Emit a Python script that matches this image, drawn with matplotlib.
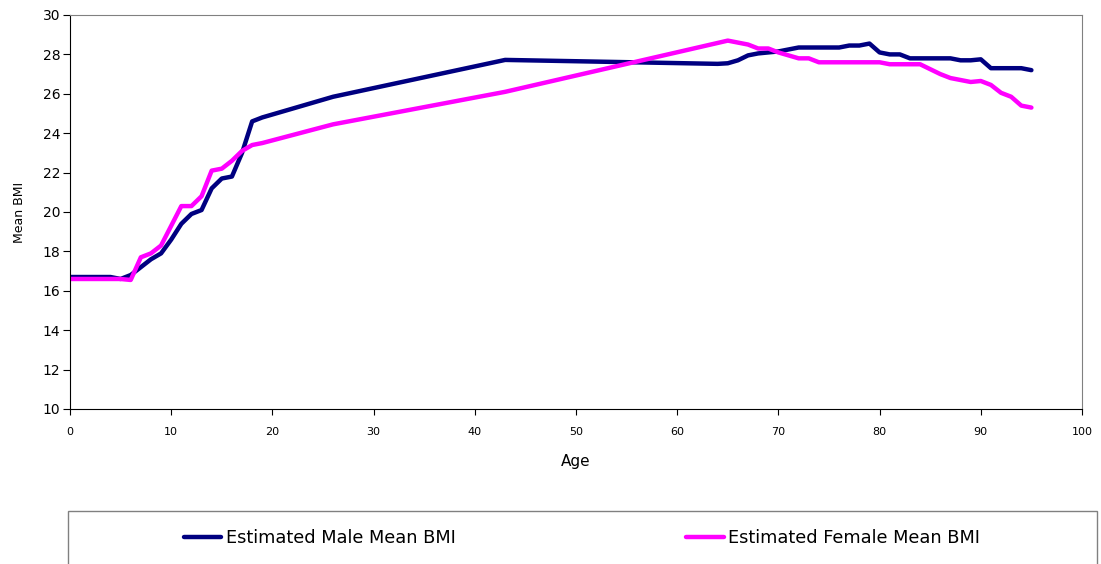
import numpy as np
import matplotlib.pyplot as plt
from matplotlib.patches import Rectangle

plt.rcParams['font.family'] = ['Verdana', 'DejaVu Sans']

male_age = [0, 1, 2, 3, 4, 5, 6, 7, 8, 9, 10, 11, 12, 13, 14, 15, 16, 17, 18, 19,
            26, 43, 64, 65, 66, 67, 68, 69, 70, 71, 72, 73, 74, 75, 76, 77, 78, 79,
            80, 81, 82, 83, 84, 85, 86, 87, 88, 89, 90, 91, 92, 93, 94, 95]
male_bmi = [16.7, 16.7, 16.7, 16.7, 16.7, 16.6, 16.8, 17.2, 17.6, 17.9, 18.6, 19.4,
            19.9, 20.1, 21.2, 21.7, 21.8, 23.0, 24.6, 24.8,
            25.85, 27.72, 27.52, 27.55, 27.7, 27.95, 28.05, 28.1, 28.15, 28.25, 28.35,
            28.35, 28.35, 28.35, 28.35, 28.45, 28.45, 28.55,
            28.1, 28.0, 28.0, 27.8, 27.8, 27.8, 27.8, 27.8, 27.7, 27.7, 27.75, 27.3,
            27.3, 27.3, 27.3, 27.2]

female_age = [0, 1, 2, 3, 4, 5, 6, 7, 8, 9, 10, 11, 12, 13, 14, 15, 16, 17, 18, 19,
              26, 43, 65, 66, 67, 68, 69, 70, 71, 72, 73, 74, 75, 76, 77, 78, 79,
              80, 81, 82, 83, 84, 85, 86, 87, 88, 89, 90, 91, 92, 93, 94, 95]
female_bmi = [16.6, 16.6, 16.6, 16.6, 16.6, 16.6, 16.55, 17.7, 17.9, 18.3, 19.3, 20.3,
              20.3, 20.8, 22.1, 22.2, 22.6, 23.1, 23.4, 23.5,
              24.45, 26.1, 28.7, 28.6, 28.5, 28.3, 28.3, 28.1, 27.95, 27.8, 27.8, 27.6,
              27.6, 27.6, 27.6, 27.6, 27.6,
              27.6, 27.5, 27.5, 27.5, 27.5, 27.25, 27.0, 26.8, 26.7, 26.6, 26.65, 26.45,
              26.05, 25.85, 25.4, 25.3]

fig = plt.figure(figsize=(11.01, 5.64), dpi=100)
ax = fig.add_axes([70/1101, 155/564, 1012/1101, 394/564])

ax.plot(male_age, male_bmi, color='#000080', lw=3.2, solid_joinstyle='round',
        solid_capstyle='round', label='Estimated Male Mean BMI')
ax.plot(female_age, female_bmi, color='#FF00FF', lw=3.2, solid_joinstyle='round',
        solid_capstyle='round', label='Estimated Female Mean BMI')

ax.set_xlim(0, 100)
ax.set_ylim(10, 30)
ax.set_xticks(range(0, 101, 10))
ax.set_yticks(range(10, 31, 2))
ax.tick_params(axis='x', labelsize=8, direction='out', length=4, pad=9)
ax.tick_params(axis='y', labelsize=10, direction='out', length=5, pad=2)
for s in ['top', 'right']:
    ax.spines[s].set_color('#808080')
for s in ['left', 'bottom']:
    ax.spines[s].set_color('black')
ax.set_xlabel('Age', fontsize=11, labelpad=12)
ax.set_ylabel('Mean BMI', fontsize=9, labelpad=12)

# legend box runs off the bottom edge
fig.patches.append(Rectangle((68/1101, -0.05), 1029/1101, 0.05 + 53/564,
                             transform=fig.transFigure, fill=False,
                             edgecolor='#808080', lw=1))
fig.legend(loc='center', bbox_to_anchor=(582/1101, 1 - 538/564), ncol=2,
           frameon=False, fontsize=12.8, handlelength=2.1, handletextpad=0.25,
           columnspacing=13.0)

fig.savefig('out.png', dpi=100)
